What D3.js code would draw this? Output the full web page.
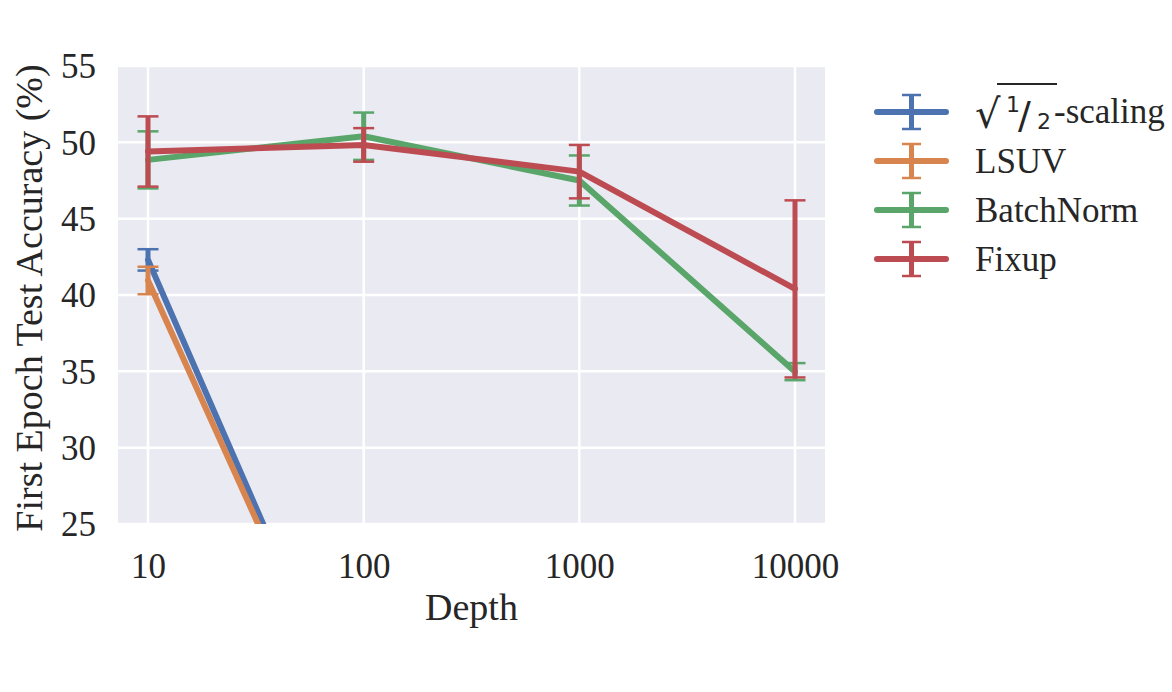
<!DOCTYPE html>
<html>
<head>
<meta charset="utf-8">
<script src="https://cdn.jsdelivr.net/npm/d3@7"></script>
<style>
  body { margin: 0; background: #fff; }
  text { font-family: "Liberation Serif", "Times New Roman", serif; fill: #262626; }
</style>
</head>
<body>
<svg id="chart" width="1172" height="692"></svg>
<script>
// depths on the x axis (log scale)
const depths = [10, 100, 1000, 10000];
const yTicks = [25, 30, 35, 40, 45, 50, 55];

// mean accuracy and error per method
const sqrtMean = [42.3, 9.9];
const sqrtErr = [0.7, 0.5];
const lsuvMean = [40.95, 9.7];
const lsuvErr = [0.9, 0.5];
const bnMean = [48.85, 50.4, 47.5, 34.98];
const bnErr = [1.87, 1.55, 1.64, 0.56];
const fixupMean = [49.4, 49.83, 48.08, 40.4];
const fixupErr = [2.3, 1.1, 1.75, 5.8];

const seriesNames = ["sqrt", "LSUV", "BatchNorm", "Fixup"];
const colors = ["#4c72b0", "#d8844f", "#5aa569", "#bd4c52"];

const series = [
  { name: seriesNames[0], mean: sqrtMean, err: sqrtErr, color: colors[0] },
  { name: seriesNames[1], mean: lsuvMean, err: lsuvErr, color: colors[1] },
  { name: seriesNames[2], mean: bnMean, err: bnErr, color: colors[2] },
  { name: seriesNames[3], mean: fixupMean, err: fixupErr, color: colors[3] }
];

const svg = d3.select("#chart");
const plot = { left: 118, right: 825, top: 66, bottom: 524 };

let x = d3.scaleLog().domain([10, 10000]).range([148, 795]);
let y = d3.scaleLinear().domain([25, 55]).range([plot.bottom, plot.top]);

svg.append("rect")
  .attr("x", plot.left).attr("y", plot.top)
  .attr("width", plot.right - plot.left).attr("height", plot.bottom - plot.top)
  .attr("fill", "#eaeaf2");

svg.append("clipPath").attr("id", "clip")
  .append("rect")
  .attr("x", plot.left).attr("y", plot.top)
  .attr("width", plot.right - plot.left).attr("height", plot.bottom - plot.top);

// grid
let grid = svg.append("g");
grid.selectAll(".vg").data(depths).enter().append("line")
  .attr("x1", d => x(d)).attr("x2", d => x(d))
  .attr("y1", plot.top).attr("y2", plot.bottom)
  .attr("stroke", "#fff").attr("stroke-width", 2.5);
grid.selectAll(".hg").data(yTicks).enter().append("line")
  .attr("x1", plot.left).attr("x2", plot.right)
  .attr("y1", d => y(d)).attr("y2", d => y(d))
  .attr("stroke", "#fff").attr("stroke-width", 2.5);

// axes
let xAxis = svg.append("g")
  .attr("transform", "translate(0," + plot.bottom + ")")
  .call(d3.axisBottom(x).tickValues(depths).tickFormat(d3.format("d")).tickSize(0).tickPadding(29));
let yAxis = svg.append("g")
  .attr("transform", "translate(" + plot.left + ",0)")
  .call(d3.axisLeft(y).tickValues(yTicks).tickSize(0).tickPadding(22));
[xAxis, yAxis].forEach(a => {
  a.select(".domain").remove();
  a.selectAll("text").style("font-size", "35px").attr("fill", "#262626")
    .style("font-family", "'Liberation Serif', serif");
});
yAxis.selectAll("text").attr("dy", "0.34em");

svg.append("text")
  .attr("x", (plot.left + plot.right) / 2).attr("y", 620)
  .attr("text-anchor", "middle").style("font-size", "38px")
  .text("Depth");

svg.append("text")
  .attr("transform", "translate(42," + 298 + ") rotate(-90)")
  .attr("text-anchor", "middle").style("font-size", "38px")
  .text("First Epoch Test Accuracy (%)");

// lines + error bars
let marks = svg.append("g").attr("clip-path", "url(#clip)");
let line = d3.line().x(d => x(d.depth)).y(d => y(d.mean));
const capW = 10.5;

series.forEach(s => {
  let pts = s.mean.map((m, i) => ({ depth: depths[i], mean: m, err: s.err[i] }));
  let g = marks.append("g");
  g.append("path").datum(pts)
    .attr("d", line)
    .attr("fill", "none").attr("stroke", s.color)
    .attr("stroke-width", 6).attr("stroke-linejoin", "round").attr("stroke-linecap", "round");
  let eb = g.selectAll(".eb").data(pts).enter().append("g");
  eb.append("line")
    .attr("x1", d => x(d.depth)).attr("x2", d => x(d.depth))
    .attr("y1", d => y(d.mean - d.err)).attr("y2", d => y(d.mean + d.err))
    .attr("stroke", s.color).attr("stroke-width", 5);
  [-1, 1].forEach(k => {
    eb.append("line")
      .attr("x1", d => x(d.depth) - capW).attr("x2", d => x(d.depth) + capW)
      .attr("y1", d => y(d.mean + k * d.err)).attr("y2", d => y(d.mean + k * d.err))
      .attr("stroke", s.color).attr("stroke-width", 2.5);
  });
});

// legend
let legend = svg.append("g");
const rowY = [112, 161, 210, 259];
series.forEach((s, i) => {
  let cy = rowY[i];
  legend.append("line").attr("x1", 877).attr("x2", 946).attr("y1", cy).attr("y2", cy)
    .attr("stroke", s.color).attr("stroke-width", 6).attr("stroke-linecap", "round");
  legend.append("line").attr("x1", 911.5).attr("x2", 911.5).attr("y1", cy - 17).attr("y2", cy + 17)
    .attr("stroke", s.color).attr("stroke-width", 5);
  [-17, 17].forEach(o => {
    legend.append("line").attr("x1", 902).attr("x2", 921).attr("y1", cy + o).attr("y2", cy + o)
      .attr("stroke", s.color).attr("stroke-width", 2.5);
  });
});

// label for sqrt(1/2)-scaling
let lab = legend.append("g");
lab.append("text").attr("x", 975).attr("y", 128)
  .style("font-family", "'DejaVu Sans', sans-serif").style("font-size", "40px")
  .text("√");
lab.append("line").attr("x1", 997).attr("x2", 1057).attr("y1", 84).attr("y2", 84)
  .attr("stroke", "#262626").attr("stroke-width", 2);
lab.append("text").attr("x", 1006).attr("y", 112)
  .style("font-family", "'DejaVu Sans', sans-serif").style("font-size", "22px")
  .text("1");
lab.append("text").attr("x", 1018).attr("y", 128)
  .style("font-family", "'DejaVu Sans', sans-serif").style("font-size", "38px")
  .text("/");
lab.append("text").attr("x", 1037).attr("y", 129)
  .style("font-family", "'DejaVu Sans', sans-serif").style("font-size", "22px")
  .text("2");
lab.append("text").attr("x", 1054).attr("y", 123)
  .style("font-size", "35px").text("-scaling");

const labels = [null, "LSUV", "BatchNorm", "Fixup"];
labels.forEach((t, i) => {
  if (!t) return;
  legend.append("text").attr("x", 975).attr("y", rowY[i] + 12)
    .style("font-size", "35px").text(t);
});
</script>
</body>
</html>
